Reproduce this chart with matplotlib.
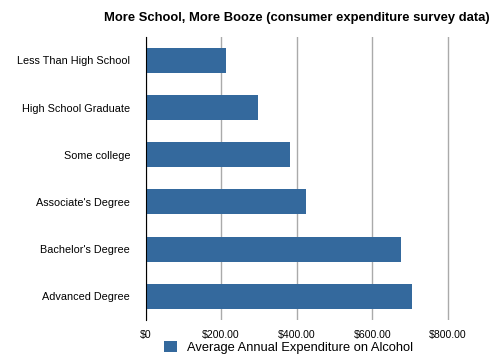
import matplotlib
matplotlib.use('Agg')
import matplotlib.pyplot as plt
from matplotlib.ticker import FuncFormatter

plt.rcParams['font.family'] = ['Liberation Sans', 'DejaVu Sans']

categories = ['Less Than High School', 'High School Graduate', 'Some college',
              "Associate's Degree", "Bachelor's Degree", 'Advanced Degree']
spending = [213, 298, 383, 425, 677, 705]
xticks = [0, 200, 400, 600, 800]

fig = plt.figure(figsize=(5, 3.55), dpi=100)
ax = fig.add_axes([0.291, 0.099, 0.68, 0.797])

ypos = range(len(categories))
ax.barh(ypos, spending, height=0.53, color='#34699d',
        label='Average Annual Expenditure on Alcohol', zorder=2)
ax.set_ylim(len(categories) - 0.5, -0.5)
ax.set_xlim(0, 900)
ax.set_yticks(list(ypos))
ax.set_yticklabels(categories, fontsize=7.8)
ax.set_xticks(xticks)
ax.xaxis.set_major_formatter(FuncFormatter(lambda v, p: '$0' if v == 0 else '${:,.2f}'.format(v)))
ax.tick_params(axis='x', labelsize=7.6, length=0, pad=7)
ax.tick_params(axis='y', length=0, pad=11)
ax.grid(axis='x', color='#aaaaaa', linewidth=1, zorder=0)
for s in ['top', 'right', 'bottom']:
    ax.spines[s].set_visible(False)
ax.spines['left'].set_color('black')
ax.spines['left'].set_zorder(3)

fig.text(0.98, 0.948, 'More School, More Booze (consumer expenditure survey data)',
         ha='right', va='center', fontsize=9.4, fontweight='bold')

fig.legend(loc='center', bbox_to_anchor=(0.577, 0.022), frameon=False, fontsize=9.3,
           handlelength=1.0, handleheight=1.0, handletextpad=0.8, borderaxespad=0)

fig.savefig('out.png', dpi=100)
